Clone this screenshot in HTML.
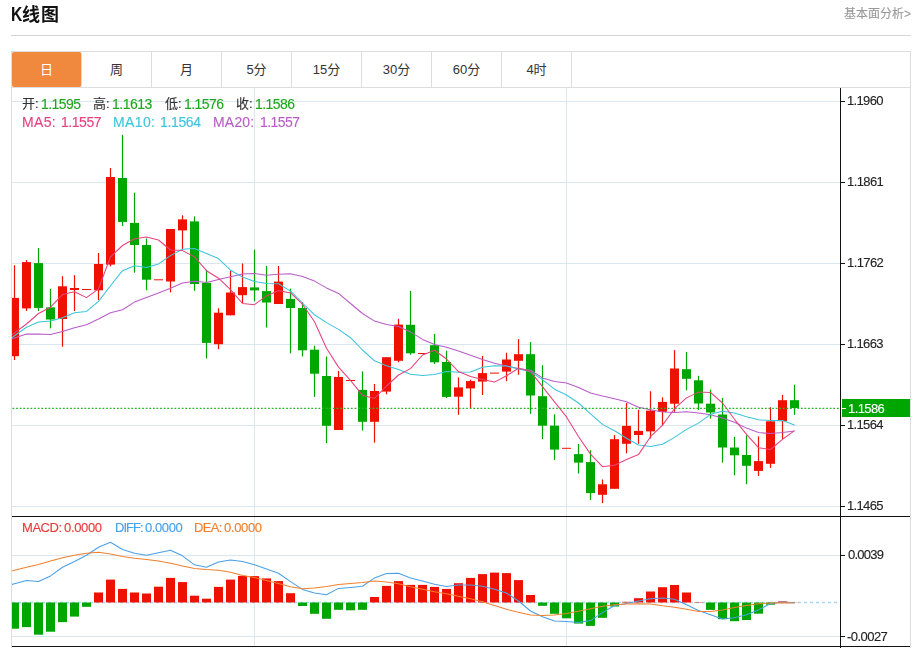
<!DOCTYPE html>
<html lang="zh"><head><meta charset="utf-8"><title>K线图</title>
<style>
html,body{margin:0;padding:0;background:#fff;}
body{width:915px;height:648px;position:relative;overflow:hidden;font-family:"Liberation Sans","Noto Sans CJK SC",sans-serif;color:#333;}
.hr{position:absolute;left:11px;top:35px;width:900px;height:1px;background:#d4d4d4}
.box{position:absolute;left:11px;top:51px;width:898px;height:600px;border:1px solid #ddd;}
.tabs{position:absolute;left:12px;top:52px;height:35px;width:898px;border-bottom:1px solid #ddd;}
.tab{position:absolute;top:0;width:69px;height:35px;line-height:35px;text-align:center;font-size:13px;color:#333;border-right:1px solid #ddd}
.tab.on{background:#f0883e;color:#fff;border-radius:2px}
.t{position:absolute;white-space:nowrap;line-height:1;will-change:transform;-webkit-text-stroke:0.12px currentColor;}
#title{-webkit-text-stroke:0}
</style></head><body>
<div class="hr"></div>
<div class="box"></div>
<div class="tabs">
<div class="tab on" style="left:0">日</div>
<div class="tab" style="left:70px">周</div>
<div class="tab" style="left:140px">月</div>
<div class="tab" style="left:210px">5分</div>
<div class="tab" style="left:280px">15分</div>
<div class="tab" style="left:350px">30分</div>
<div class="tab" style="left:420px">60分</div>
<div class="tab" style="left:490px">4时</div>
</div>
<svg width="915" height="648" viewBox="0 0 915 648" style="position:absolute;left:0;top:0">
<defs><clipPath id="cp"><rect x="12" y="88" width="828" height="560"/></clipPath></defs>
<g shape-rendering="crispEdges" stroke="#dbe7ef" stroke-width="1">
<line x1="12" x2="840" y1="101.5" y2="101.5"/>
<line x1="12" x2="840" y1="182.5" y2="182.5"/>
<line x1="12" x2="840" y1="263.5" y2="263.5"/>
<line x1="12" x2="840" y1="344.5" y2="344.5"/>
<line x1="12" x2="840" y1="425.5" y2="425.5"/>
<line x1="12" x2="840" y1="506.5" y2="506.5"/>
<line x1="12" x2="840" y1="555.5" y2="555.5"/>
<line x1="12" x2="840" y1="636.5" y2="636.5"/>
<line x1="254.5" x2="254.5" y1="88" y2="646"/>
<line x1="566.5" x2="566.5" y1="88" y2="646"/>
</g>
<line x1="12" x2="838" y1="602.5" y2="602.5" stroke="#a8d8f0" stroke-width="1.5" stroke-dasharray="3,3"/>
<g clip-path="url(#cp)">
<g>
<rect x="10.0" y="602.5" width="9" height="26.2" fill="#00a600"/>
<rect x="22.0" y="602.5" width="9" height="24.6" fill="#00a600"/>
<rect x="34.0" y="602.5" width="9" height="32.2" fill="#00a600"/>
<rect x="46.0" y="602.5" width="9" height="29.2" fill="#00a600"/>
<rect x="58.0" y="602.5" width="9" height="19.6" fill="#00a600"/>
<rect x="70.0" y="602.5" width="9" height="14.1" fill="#00a600"/>
<rect x="82.0" y="602.5" width="9" height="4.3" fill="#00a600"/>
<rect x="94.0" y="592.5" width="9" height="10.0" fill="#ee1100"/>
<rect x="106.0" y="579.6" width="9" height="22.9" fill="#ee1100"/>
<rect x="118.0" y="588.9" width="9" height="13.6" fill="#ee1100"/>
<rect x="130.0" y="592.5" width="9" height="10.0" fill="#ee1100"/>
<rect x="142.0" y="593.5" width="9" height="9.0" fill="#ee1100"/>
<rect x="154.0" y="586.7" width="9" height="15.8" fill="#ee1100"/>
<rect x="166.0" y="577.9" width="9" height="24.6" fill="#ee1100"/>
<rect x="178.0" y="582.1" width="9" height="20.4" fill="#ee1100"/>
<rect x="190.0" y="595.7" width="9" height="6.8" fill="#ee1100"/>
<rect x="202.0" y="598.7" width="9" height="3.8" fill="#ee1100"/>
<rect x="214.0" y="586.9" width="9" height="15.6" fill="#ee1100"/>
<rect x="226.0" y="579.6" width="9" height="22.9" fill="#ee1100"/>
<rect x="238.0" y="575.9" width="9" height="26.6" fill="#ee1100"/>
<rect x="250.0" y="576.1" width="9" height="26.4" fill="#ee1100"/>
<rect x="262.0" y="578.4" width="9" height="24.1" fill="#ee1100"/>
<rect x="274.0" y="581.1" width="9" height="21.4" fill="#ee1100"/>
<rect x="286.0" y="593.2" width="9" height="9.3" fill="#ee1100"/>
<rect x="298.0" y="602.5" width="9" height="3.5" fill="#00a600"/>
<rect x="310.0" y="602.5" width="9" height="11.3" fill="#00a600"/>
<rect x="322.0" y="602.5" width="9" height="16.3" fill="#00a600"/>
<rect x="334.0" y="602.5" width="9" height="7.3" fill="#00a600"/>
<rect x="346.0" y="602.5" width="9" height="7.8" fill="#00a600"/>
<rect x="358.0" y="602.5" width="9" height="7.3" fill="#00a600"/>
<rect x="370.0" y="597.0" width="9" height="5.5" fill="#ee1100"/>
<rect x="382.0" y="585.9" width="9" height="16.6" fill="#ee1100"/>
<rect x="394.0" y="581.1" width="9" height="21.4" fill="#ee1100"/>
<rect x="406.0" y="584.9" width="9" height="17.6" fill="#ee1100"/>
<rect x="418.0" y="584.9" width="9" height="17.6" fill="#ee1100"/>
<rect x="430.0" y="586.9" width="9" height="15.6" fill="#ee1100"/>
<rect x="442.0" y="588.9" width="9" height="13.6" fill="#ee1100"/>
<rect x="454.0" y="583.2" width="9" height="19.3" fill="#ee1100"/>
<rect x="466.0" y="577.9" width="9" height="24.6" fill="#ee1100"/>
<rect x="478.0" y="574.1" width="9" height="28.4" fill="#ee1100"/>
<rect x="490.0" y="572.6" width="9" height="29.9" fill="#ee1100"/>
<rect x="502.0" y="573.1" width="9" height="29.4" fill="#ee1100"/>
<rect x="514.0" y="580.1" width="9" height="22.4" fill="#ee1100"/>
<rect x="526.0" y="595.0" width="9" height="7.5" fill="#ee1100"/>
<rect x="538.0" y="602.5" width="9" height="3.3" fill="#00a600"/>
<rect x="550.0" y="602.5" width="9" height="11.3" fill="#00a600"/>
<rect x="562.0" y="602.5" width="9" height="15.8" fill="#00a600"/>
<rect x="574.0" y="602.5" width="9" height="21.1" fill="#00a600"/>
<rect x="586.0" y="602.5" width="9" height="23.4" fill="#00a600"/>
<rect x="598.0" y="602.5" width="9" height="15.3" fill="#00a600"/>
<rect x="610.0" y="602.5" width="9" height="4.0" fill="#00a600"/>
<rect x="622.0" y="601.8" width="9" height="0.7" fill="#ee1100"/>
<rect x="634.0" y="598.2" width="9" height="4.3" fill="#ee1100"/>
<rect x="646.0" y="591.5" width="9" height="11.0" fill="#ee1100"/>
<rect x="658.0" y="587.2" width="9" height="15.3" fill="#ee1100"/>
<rect x="670.0" y="585.0" width="9" height="17.5" fill="#ee1100"/>
<rect x="682.0" y="592.5" width="9" height="10.0" fill="#ee1100"/>
<rect x="694.0" y="602.1" width="9" height="0.4" fill="#ee1100"/>
<rect x="706.0" y="602.5" width="9" height="7.4" fill="#00a600"/>
<rect x="718.0" y="602.5" width="9" height="16.7" fill="#00a600"/>
<rect x="730.0" y="602.5" width="9" height="18.7" fill="#00a600"/>
<rect x="742.0" y="602.5" width="9" height="17.5" fill="#00a600"/>
<rect x="754.0" y="602.5" width="9" height="11.2" fill="#00a600"/>
<rect x="766.0" y="602.5" width="9" height="2.2" fill="#00a600"/>
<rect x="778.0" y="601.4" width="9" height="1.1" fill="#ee1100"/>
<rect x="790.0" y="602.3" width="9" height="0.2" fill="#ee1100"/>
</g>
<g>
<rect x="13.9" y="265.2" width="1.2" height="94.8" fill="#ee1100"/>
<rect x="10.0" y="297.9" width="9" height="58.3" fill="#ee1100"/>
<rect x="25.9" y="260.1" width="1.2" height="50.9" fill="#ee1100"/>
<rect x="22.0" y="262.1" width="9" height="46.3" fill="#ee1100"/>
<rect x="37.9" y="248.0" width="1.2" height="63.0" fill="#00a600"/>
<rect x="34.0" y="263.1" width="9" height="44.8" fill="#00a600"/>
<rect x="49.9" y="289.0" width="1.2" height="39.3" fill="#00a600"/>
<rect x="46.0" y="307.4" width="9" height="12.1" fill="#00a600"/>
<rect x="61.9" y="276.2" width="1.2" height="70.5" fill="#ee1100"/>
<rect x="58.0" y="286.3" width="9" height="32.7" fill="#ee1100"/>
<rect x="73.9" y="275.2" width="1.2" height="35.8" fill="#ee1100"/>
<rect x="70.0" y="288.0" width="9" height="2.0" fill="#ee1100"/>
<rect x="82.0" y="289.0" width="9" height="1" fill="#ee1100"/>
<rect x="97.9" y="253.0" width="1.2" height="47.0" fill="#ee1100"/>
<rect x="94.0" y="264.0" width="9" height="26.3" fill="#ee1100"/>
<rect x="109.9" y="168.0" width="1.2" height="98.4" fill="#ee1100"/>
<rect x="106.0" y="177.0" width="9" height="87.6" fill="#ee1100"/>
<rect x="121.9" y="134.8" width="1.2" height="91.2" fill="#00a600"/>
<rect x="118.0" y="178.0" width="9" height="43.9" fill="#00a600"/>
<rect x="133.9" y="192.7" width="1.2" height="80.0" fill="#00a600"/>
<rect x="130.0" y="222.9" width="9" height="22.1" fill="#00a600"/>
<rect x="145.9" y="238.5" width="1.2" height="51.8" fill="#00a600"/>
<rect x="142.0" y="245.0" width="9" height="34.7" fill="#00a600"/>
<rect x="154.0" y="279.3" width="9" height="1" fill="#ee1100"/>
<rect x="169.9" y="229.0" width="1.2" height="63.3" fill="#ee1100"/>
<rect x="166.0" y="229.0" width="9" height="52.5" fill="#ee1100"/>
<rect x="181.9" y="215.3" width="1.2" height="34.0" fill="#ee1100"/>
<rect x="178.0" y="219.4" width="9" height="11.0" fill="#ee1100"/>
<rect x="193.9" y="216.4" width="1.2" height="74.4" fill="#00a600"/>
<rect x="190.0" y="221.4" width="9" height="62.6" fill="#00a600"/>
<rect x="205.9" y="269.7" width="1.2" height="88.8" fill="#00a600"/>
<rect x="202.0" y="282.8" width="9" height="60.1" fill="#00a600"/>
<rect x="217.9" y="308.3" width="1.2" height="40.9" fill="#ee1100"/>
<rect x="214.0" y="312.7" width="9" height="31.5" fill="#ee1100"/>
<rect x="229.9" y="270.8" width="1.2" height="44.5" fill="#ee1100"/>
<rect x="226.0" y="292.5" width="9" height="22.8" fill="#ee1100"/>
<rect x="241.9" y="263.5" width="1.2" height="39.5" fill="#ee1100"/>
<rect x="238.0" y="287.1" width="9" height="8.1" fill="#ee1100"/>
<rect x="253.9" y="249.6" width="1.2" height="51.6" fill="#00a600"/>
<rect x="250.0" y="287.4" width="9" height="3.0" fill="#00a600"/>
<rect x="265.9" y="266.0" width="1.2" height="61.6" fill="#00a600"/>
<rect x="262.0" y="291.1" width="9" height="11.4" fill="#00a600"/>
<rect x="277.9" y="266.0" width="1.2" height="38.0" fill="#ee1100"/>
<rect x="274.0" y="281.6" width="9" height="22.4" fill="#ee1100"/>
<rect x="289.9" y="288.6" width="1.2" height="64.7" fill="#00a600"/>
<rect x="286.0" y="298.9" width="9" height="9.1" fill="#00a600"/>
<rect x="301.9" y="302.2" width="1.2" height="54.3" fill="#00a600"/>
<rect x="298.0" y="308.0" width="9" height="42.3" fill="#00a600"/>
<rect x="313.9" y="345.7" width="1.2" height="51.2" fill="#00a600"/>
<rect x="310.0" y="349.7" width="9" height="24.0" fill="#00a600"/>
<rect x="325.9" y="356.5" width="1.2" height="86.6" fill="#00a600"/>
<rect x="322.0" y="376.0" width="9" height="49.8" fill="#00a600"/>
<rect x="337.9" y="370.9" width="1.2" height="59.1" fill="#ee1100"/>
<rect x="334.0" y="377.0" width="9" height="53.0" fill="#ee1100"/>
<rect x="346.0" y="380.0" width="9" height="1" fill="#ee1100"/>
<rect x="361.9" y="371.4" width="1.2" height="59.2" fill="#00a600"/>
<rect x="358.0" y="389.9" width="9" height="31.9" fill="#00a600"/>
<rect x="373.9" y="384.0" width="1.2" height="58.6" fill="#ee1100"/>
<rect x="370.0" y="391.0" width="9" height="30.8" fill="#ee1100"/>
<rect x="385.9" y="357.2" width="1.2" height="37.1" fill="#ee1100"/>
<rect x="382.0" y="357.2" width="9" height="34.4" fill="#ee1100"/>
<rect x="397.9" y="318.8" width="1.2" height="43.5" fill="#ee1100"/>
<rect x="394.0" y="324.6" width="9" height="36.2" fill="#ee1100"/>
<rect x="409.9" y="290.9" width="1.2" height="63.9" fill="#00a600"/>
<rect x="406.0" y="324.8" width="9" height="28.5" fill="#00a600"/>
<rect x="418.0" y="353.0" width="9" height="1" fill="#ee1100"/>
<rect x="433.9" y="333.9" width="1.2" height="30.1" fill="#00a600"/>
<rect x="430.0" y="345.2" width="9" height="17.1" fill="#00a600"/>
<rect x="445.9" y="350.7" width="1.2" height="47.3" fill="#00a600"/>
<rect x="442.0" y="362.0" width="9" height="34.9" fill="#00a600"/>
<rect x="457.9" y="377.4" width="1.2" height="37.4" fill="#ee1100"/>
<rect x="454.0" y="387.4" width="9" height="9.3" fill="#ee1100"/>
<rect x="469.9" y="379.6" width="1.2" height="28.4" fill="#ee1100"/>
<rect x="466.0" y="381.1" width="9" height="7.3" fill="#ee1100"/>
<rect x="481.9" y="356.0" width="1.2" height="39.0" fill="#ee1100"/>
<rect x="478.0" y="373.1" width="9" height="8.5" fill="#ee1100"/>
<rect x="490.0" y="372.6" width="9" height="1" fill="#ee1100"/>
<rect x="505.9" y="352.7" width="1.2" height="28.4" fill="#ee1100"/>
<rect x="502.0" y="359.5" width="9" height="12.1" fill="#ee1100"/>
<rect x="517.9" y="339.1" width="1.2" height="35.7" fill="#ee1100"/>
<rect x="514.0" y="354.2" width="9" height="6.6" fill="#ee1100"/>
<rect x="529.9" y="342.1" width="1.2" height="71.7" fill="#00a600"/>
<rect x="526.0" y="354.2" width="9" height="41.3" fill="#00a600"/>
<rect x="541.9" y="365.3" width="1.2" height="73.7" fill="#00a600"/>
<rect x="538.0" y="396.2" width="9" height="29.5" fill="#00a600"/>
<rect x="553.9" y="414.3" width="1.2" height="45.6" fill="#00a600"/>
<rect x="550.0" y="425.7" width="9" height="23.9" fill="#00a600"/>
<rect x="562.0" y="447.8" width="9" height="1" fill="#ee1100"/>
<rect x="577.9" y="444.0" width="1.2" height="29.5" fill="#00a600"/>
<rect x="574.0" y="454.1" width="9" height="8.5" fill="#00a600"/>
<rect x="589.9" y="450.2" width="1.2" height="49.7" fill="#00a600"/>
<rect x="586.0" y="462.1" width="9" height="31.0" fill="#00a600"/>
<rect x="601.9" y="479.5" width="1.2" height="23.6" fill="#ee1100"/>
<rect x="598.0" y="484.3" width="9" height="10.5" fill="#ee1100"/>
<rect x="613.9" y="435.1" width="1.2" height="53.7" fill="#ee1100"/>
<rect x="610.0" y="439.2" width="9" height="49.6" fill="#ee1100"/>
<rect x="625.9" y="403.0" width="1.2" height="50.3" fill="#ee1100"/>
<rect x="622.0" y="425.9" width="9" height="17.9" fill="#ee1100"/>
<rect x="637.9" y="409.8" width="1.2" height="34.0" fill="#ee1100"/>
<rect x="634.0" y="430.9" width="9" height="4.1" fill="#ee1100"/>
<rect x="649.9" y="391.2" width="1.2" height="47.2" fill="#ee1100"/>
<rect x="646.0" y="410.6" width="9" height="20.8" fill="#ee1100"/>
<rect x="661.9" y="397.3" width="1.2" height="28.3" fill="#ee1100"/>
<rect x="658.0" y="401.9" width="9" height="9.9" fill="#ee1100"/>
<rect x="673.9" y="350.1" width="1.2" height="61.7" fill="#ee1100"/>
<rect x="670.0" y="368.5" width="9" height="35.2" fill="#ee1100"/>
<rect x="685.9" y="351.9" width="1.2" height="38.5" fill="#00a600"/>
<rect x="682.0" y="369.2" width="9" height="9.6" fill="#00a600"/>
<rect x="697.9" y="375.8" width="1.2" height="34.2" fill="#00a600"/>
<rect x="694.0" y="380.3" width="9" height="23.2" fill="#00a600"/>
<rect x="709.9" y="389.6" width="1.2" height="29.0" fill="#00a600"/>
<rect x="706.0" y="403.7" width="9" height="8.8" fill="#00a600"/>
<rect x="721.9" y="397.9" width="1.2" height="64.7" fill="#00a600"/>
<rect x="718.0" y="414.5" width="9" height="33.0" fill="#00a600"/>
<rect x="733.9" y="436.9" width="1.2" height="38.3" fill="#00a600"/>
<rect x="730.0" y="447.5" width="9" height="7.8" fill="#00a600"/>
<rect x="745.9" y="435.2" width="1.2" height="49.0" fill="#00a600"/>
<rect x="742.0" y="455.0" width="9" height="10.8" fill="#00a600"/>
<rect x="757.9" y="436.4" width="1.2" height="39.5" fill="#ee1100"/>
<rect x="754.0" y="461.1" width="9" height="9.8" fill="#ee1100"/>
<rect x="769.9" y="407.2" width="1.2" height="60.7" fill="#ee1100"/>
<rect x="766.0" y="421.3" width="9" height="42.5" fill="#ee1100"/>
<rect x="781.9" y="394.9" width="1.2" height="44.0" fill="#ee1100"/>
<rect x="778.0" y="400.2" width="9" height="20.9" fill="#ee1100"/>
<rect x="793.9" y="384.8" width="1.2" height="30.0" fill="#00a600"/>
<rect x="790.0" y="400.2" width="9" height="7.8" fill="#00a600"/>
</g>
<polyline fill="none" stroke="#b85cc8" stroke-width="1.05" stroke-linejoin="round" points="2.5,341.7 14.5,337.9 26.5,334.1 38.5,334.0 50.5,334.6 62.5,331.6 74.5,327.8 86.5,324.8 98.5,319.0 110.5,312.7 122.5,309.7 134.5,302.1 146.5,297.6 158.5,293.0 170.5,288.3 182.5,283.0 194.5,281.3 206.5,282.5 218.5,279.5 230.5,276.8 242.5,274.0 254.5,273.5 266.5,275.3 278.5,274.3 290.5,273.8 302.5,276.5 314.5,281.1 326.5,287.9 338.5,293.4 350.5,303.5 362.5,313.5 374.5,321.1 386.5,324.6 398.5,326.4 410.5,331.9 422.5,339.4 434.5,344.5 446.5,347.2 458.5,350.9 470.5,355.2 482.5,359.5 494.5,363.3 506.5,366.0 518.5,368.6 530.5,370.3 542.5,377.9 554.5,381.6 566.5,382.9 578.5,387.4 590.5,393.0 602.5,396.0 614.5,398.7 626.5,401.8 638.5,407.3 650.5,409.8 662.5,412.0 674.5,412.5 686.5,411.8 698.5,413.0 710.5,414.8 722.5,418.1 734.5,422.3 746.5,428.1 758.5,432.6 770.5,433.6 782.5,432.6 794.5,431.1"/>
<polyline fill="none" stroke="#3cc4dc" stroke-width="1.05" stroke-linejoin="round" points="2.5,344.3 14.5,335.8 26.5,327.3 38.5,322.0 50.5,321.0 62.5,317.7 74.5,312.7 86.5,311.4 98.5,301.4 110.5,285.8 122.5,270.7 134.5,265.7 146.5,267.4 158.5,263.9 170.5,255.6 182.5,249.3 194.5,248.6 206.5,253.6 218.5,258.6 230.5,270.2 242.5,277.0 254.5,281.6 266.5,283.6 278.5,283.8 290.5,291.1 302.5,303.0 314.5,314.8 326.5,322.6 338.5,329.4 350.5,337.7 362.5,350.0 374.5,360.8 386.5,365.8 398.5,369.6 410.5,374.2 422.5,375.4 434.5,374.4 446.5,371.5 458.5,372.3 470.5,372.1 482.5,367.3 494.5,365.8 506.5,366.0 518.5,369.1 530.5,371.6 542.5,379.6 554.5,389.2 566.5,395.0 578.5,403.0 590.5,413.8 602.5,424.4 614.5,430.7 626.5,438.2 638.5,445.0 650.5,446.5 662.5,444.3 674.5,437.4 686.5,429.4 698.5,423.1 710.5,414.3 722.5,411.3 734.5,413.0 746.5,416.8 758.5,419.8 770.5,420.6 782.5,420.6 794.5,425.1"/>
<polyline fill="none" stroke="#e6427e" stroke-width="1.05" stroke-linejoin="round" points="2.5,341.6 14.5,332.8 26.5,324.0 38.5,313.5 50.5,307.2 62.5,294.6 74.5,291.8 86.5,297.6 98.5,288.8 110.5,256.9 122.5,245.5 134.5,238.7 146.5,237.0 158.5,240.0 170.5,250.0 182.5,250.6 194.5,256.9 206.5,270.7 218.5,278.2 230.5,289.6 242.5,303.5 254.5,304.7 266.5,295.9 278.5,290.4 290.5,292.9 302.5,304.2 314.5,321.8 326.5,348.2 338.5,367.1 350.5,380.4 362.5,395.3 374.5,398.4 386.5,386.0 398.5,375.0 410.5,368.6 422.5,355.0 434.5,350.3 446.5,359.0 458.5,371.6 470.5,376.6 482.5,379.6 494.5,382.1 506.5,375.8 518.5,368.3 530.5,371.6 542.5,386.7 554.5,401.8 566.5,416.9 578.5,436.5 590.5,454.1 602.5,466.7 614.5,465.2 626.5,459.6 638.5,454.6 650.5,436.7 662.5,425.1 674.5,408.7 686.5,397.9 698.5,392.1 710.5,392.4 722.5,403.0 734.5,419.3 746.5,434.4 758.5,447.7 770.5,449.5 782.5,439.4 794.5,430.6"/>
<polyline fill="none" stroke="#4aa0e8" stroke-width="1.05" stroke-linejoin="round" points="2.5,587.0 14.5,583.7 26.5,580.4 38.5,581.4 50.5,575.9 62.5,567.3 74.5,561.5 86.5,555.2 98.5,547.2 110.5,542.2 122.5,549.5 134.5,553.2 146.5,555.2 158.5,552.7 170.5,550.2 182.5,555.8 194.5,564.8 206.5,567.3 218.5,562.0 230.5,560.0 242.5,561.5 254.5,564.8 266.5,569.1 278.5,573.3 290.5,581.6 302.5,589.4 314.5,593.0 326.5,594.7 338.5,588.4 350.5,587.4 362.5,586.2 374.5,577.9 386.5,573.6 398.5,573.3 410.5,578.1 422.5,580.9 434.5,584.2 446.5,586.4 458.5,584.9 470.5,584.9 482.5,586.2 494.5,589.2 506.5,593.0 518.5,601.0 530.5,611.0 542.5,616.8 554.5,620.9 566.5,621.4 578.5,622.4 590.5,620.6 602.5,612.6 614.5,605.5 626.5,603.5 638.5,601.0 650.5,598.8 662.5,598.1 674.5,599.2 686.5,604.7 698.5,610.5 710.5,614.8 722.5,618.9 734.5,617.7 746.5,614.8 758.5,609.9 770.5,603.5 782.5,602.1 794.5,602.7"/>
<polyline fill="none" stroke="#f08030" stroke-width="1.05" stroke-linejoin="round" points="2.5,573.3 14.5,570.3 26.5,567.3 38.5,564.5 50.5,561.0 62.5,557.8 74.5,555.2 86.5,553.2 98.5,552.2 110.5,554.0 122.5,556.5 134.5,558.3 146.5,559.5 158.5,561.0 170.5,563.3 182.5,566.1 194.5,568.6 206.5,569.6 218.5,570.3 230.5,572.2 242.5,575.4 254.5,577.4 266.5,580.4 278.5,583.4 290.5,586.7 302.5,588.7 314.5,587.9 326.5,586.4 338.5,584.4 350.5,583.4 362.5,582.4 374.5,581.1 386.5,581.9 398.5,583.7 410.5,586.7 422.5,589.2 434.5,591.7 446.5,593.7 458.5,596.2 470.5,598.7 482.5,601.8 494.5,605.5 506.5,609.3 518.5,612.3 530.5,615.1 542.5,615.6 554.5,615.1 566.5,613.6 578.5,611.3 590.5,608.8 602.5,606.3 614.5,604.8 626.5,604.0 638.5,603.8 650.5,604.0 662.5,605.8 674.5,607.3 686.5,609.3 698.5,611.4 710.5,611.4 722.5,609.9 734.5,607.6 746.5,605.6 758.5,603.8 770.5,603.0 782.5,602.7 794.5,603.0"/>
</g>
<line x1="12.5" x2="839" y1="408.3" y2="408.3" stroke="#2bb32b" stroke-width="1.3" stroke-dasharray="1.8,1.8"/>
<g shape-rendering="crispEdges" stroke="#111" stroke-width="1">
<line x1="840.5" x2="840.5" y1="88" y2="648"/>
<line x1="12" x2="910" y1="516.5" y2="516.5"/>
<line x1="12" x2="910" y1="646.5" y2="646.5"/>
<line x1="841" x2="845" y1="101.5" y2="101.5"/>
<line x1="841" x2="845" y1="182.5" y2="182.5"/>
<line x1="841" x2="845" y1="263.5" y2="263.5"/>
<line x1="841" x2="845" y1="344.5" y2="344.5"/>
<line x1="841" x2="845" y1="425.5" y2="425.5"/>
<line x1="841" x2="845" y1="506.5" y2="506.5"/>
<line x1="841" x2="845" y1="555.5" y2="555.5"/>
<line x1="841" x2="845" y1="636.5" y2="636.5"/>
</g>
<rect x="842" y="399" width="68" height="18" fill="#00a600"/>
<line x1="841" x2="846" y1="408.5" y2="408.5" stroke="#fff" stroke-width="1" shape-rendering="crispEdges"/>
</svg>
<div class="t" id="title" style="left:11.15px;top:4.28px;font-size:18px;letter-spacing:1.000px;color:#111;font-weight:bold"><span style="display:inline-block;font-size:20px;transform:scaleX(.78);transform-origin:0 50%;margin-right:-4.4px">K</span>线图</div>
<div class="t" id="more" style="left:843.90px;top:7.86px;font-size:12px;letter-spacing:0.000px;color:#999;font-weight:normal">基本面分析&gt;</div>
<div class="t" id="o1" style="left:21.65px;top:97.00px;font-size:13px;letter-spacing:0.000px;color:#333;font-weight:normal">开:</div>
<div class="t" id="o2" style="left:40.80px;top:97.00px;font-size:14px;letter-spacing:-0.550px;color:#1ca81c;font-weight:normal">1.1595</div>
<div class="t" id="h1" style="left:93.45px;top:97.00px;font-size:13px;letter-spacing:0.000px;color:#333;font-weight:normal">高:</div>
<div class="t" id="h2" style="left:111.80px;top:97.00px;font-size:14px;letter-spacing:-0.500px;color:#1ca81c;font-weight:normal">1.1613</div>
<div class="t" id="l1" style="left:165.15px;top:97.00px;font-size:13px;letter-spacing:0.000px;color:#333;font-weight:normal">低:</div>
<div class="t" id="l2" style="left:184.00px;top:97.00px;font-size:14px;letter-spacing:-0.550px;color:#1ca81c;font-weight:normal">1.1576</div>
<div class="t" id="c1" style="left:236.45px;top:97.00px;font-size:13px;letter-spacing:0.000px;color:#333;font-weight:normal">收:</div>
<div class="t" id="c2" style="left:255.40px;top:97.00px;font-size:14px;letter-spacing:-0.550px;color:#1ca81c;font-weight:normal">1.1586</div>
<div class="t" id="m5a" style="left:21.60px;top:114.52px;font-size:14px;letter-spacing:0.330px;color:#e6427e;font-weight:normal">MA5:</div>
<div class="t" id="m5b" style="left:61.00px;top:114.52px;font-size:14px;letter-spacing:-0.450px;color:#e6427e;font-weight:normal">1.1557</div>
<div class="t" id="m10a" style="left:113.40px;top:114.52px;font-size:14px;letter-spacing:0.370px;color:#3cc4dc;font-weight:normal">MA10:</div>
<div class="t" id="m10b" style="left:160.40px;top:114.52px;font-size:14px;letter-spacing:-0.350px;color:#3cc4dc;font-weight:normal">1.1564</div>
<div class="t" id="m20a" style="left:212.70px;top:114.52px;font-size:14px;letter-spacing:0.190px;color:#b85cc8;font-weight:normal">MA20:</div>
<div class="t" id="m20b" style="left:259.50px;top:114.52px;font-size:14px;letter-spacing:-0.550px;color:#b85cc8;font-weight:normal">1.1557</div>
<div class="t" id="k1a" style="left:22.10px;top:520.78px;font-size:13px;letter-spacing:-0.440px;color:#e8393a;font-weight:normal">MACD:</div>
<div class="t" id="k1b" style="left:64.40px;top:520.78px;font-size:13px;letter-spacing:-0.350px;color:#e8393a;font-weight:normal">0.0000</div>
<div class="t" id="k2a" style="left:114.50px;top:521.00px;font-size:13px;letter-spacing:-0.940px;color:#4aa0e8;font-weight:normal">DIFF:</div>
<div class="t" id="k2b" style="left:144.80px;top:520.78px;font-size:13px;letter-spacing:-0.400px;color:#4aa0e8;font-weight:normal">0.0000</div>
<div class="t" id="k3a" style="left:194.30px;top:521.00px;font-size:13px;letter-spacing:-0.670px;color:#f08030;font-weight:normal">DEA:</div>
<div class="t" id="k3b" style="left:224.10px;top:520.78px;font-size:13px;letter-spacing:-0.350px;color:#f08030;font-weight:normal">0.0000</div>
<div class="t" id="y101" style="left:847.20px;top:94.02px;font-size:13px;letter-spacing:-0.650px;color:#222;font-weight:normal">1.1960</div>
<div class="t" id="y182" style="left:847.20px;top:175.01px;font-size:13px;letter-spacing:-0.600px;color:#222;font-weight:normal">1.1861</div>
<div class="t" id="y263" style="left:847.20px;top:256.01px;font-size:13px;letter-spacing:-0.600px;color:#222;font-weight:normal">1.1762</div>
<div class="t" id="y344" style="left:847.20px;top:337.01px;font-size:13px;letter-spacing:-0.650px;color:#222;font-weight:normal">1.1663</div>
<div class="t" id="y425" style="left:847.20px;top:418.01px;font-size:13px;letter-spacing:-0.650px;color:#222;font-weight:normal">1.1564</div>
<div class="t" id="y506" style="left:847.20px;top:499.01px;font-size:13px;letter-spacing:-0.650px;color:#222;font-weight:normal">1.1465</div>
<div class="t" id="y555" style="left:847.70px;top:548.02px;font-size:13px;letter-spacing:-0.750px;color:#222;font-weight:normal">0.0039</div>
<div class="t" id="y637" style="left:847.00px;top:629.61px;font-size:13px;letter-spacing:-0.540px;color:#222;font-weight:normal">-0.0027</div>
<div class="t" id="ycur" style="left:847.80px;top:402.42px;font-size:13px;letter-spacing:-0.600px;color:#fff;font-weight:normal">1.1586</div>
</body></html>
